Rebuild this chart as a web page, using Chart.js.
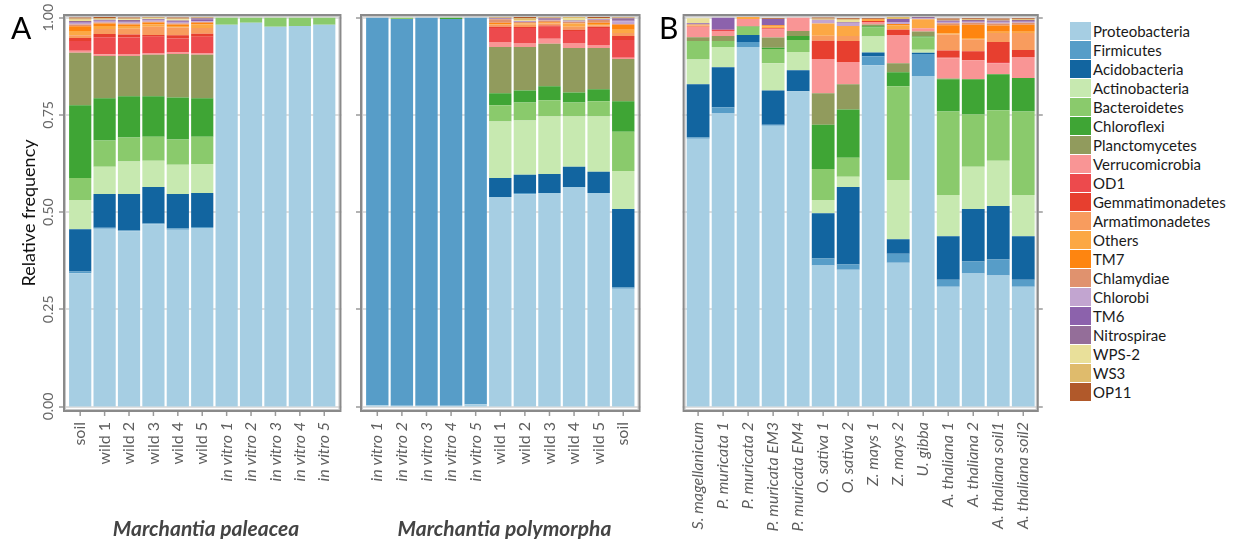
<!DOCTYPE html>
<html>
<head>
<meta charset="utf-8">
<script src="https://cdn.jsdelivr.net/npm/chart.js@4.4.0/dist/chart.umd.min.js"></script>
<style>
  body { margin: 0; background: #fff; font-family: Lato, sans-serif; }
  #wrap { position: relative; width: 1245px; height: 539px; overflow: hidden; }
  canvas { position: absolute; top: 0; }
  .letter { position: absolute; top: 12px; font-size: 30px; line-height: 30px; color: #000; }
  .group { position: absolute; top: 517px; font-size: 21px; line-height: 21px; font-weight: bold; font-style: italic; color: #444; text-align: center; }
  #legend { position: absolute; left: 1070px; top: 21px; }
  .row { height: 19px; display: flex; align-items: center; font-size: 15px; color: #1a1a1a; }
  .box { width: 21px; height: 18px; margin-right: 2px; }
</style>
</head>
<body>
<div id="wrap">
  <canvas id="c1" width="356" height="539" style="left:0"></canvas>
  <canvas id="c2" width="303" height="539" style="left:352px"></canvas>
  <canvas id="c3" width="400" height="539" style="left:655px"></canvas>
  <div class="letter" style="left:11px">A</div>
  <div class="letter" style="left:659px">B</div>
  <div class="group" style="left:63px;width:286px">Marchantia paleacea</div>
  <div class="group" style="left:361px;width:287px">Marchantia polymorpha</div>
  <div id="legend"></div>
</div>
<script>
const phyla = ['Proteobacteria', 'Firmicutes', 'Acidobacteria', 'Actinobacteria', 'Bacteroidetes',
  'Chloroflexi', 'Planctomycetes', 'Verrucomicrobia', 'OD1', 'Gemmatimonadetes', 'Armatimonadetes',
  'Others', 'TM7', 'Chlamydiae', 'Chlorobi', 'TM6', 'Nitrospirae', 'WPS-2', 'WS3', 'OP11'];
const colors = ['#a6cee3', '#579dc8', '#1265a0', '#c7e9b0', '#8aca6c', '#3fa535', '#919b5d', '#f99595',
  '#ed4a4d', '#e73f2f', '#f89c5e', '#fca844', '#fe8510', '#e0926e', '#c2a5d0', '#8c62ac', '#946e99',
  '#e9e09a', '#dfbb6c', '#b1592a'];
const yTicks = [0, 0.25, 0.5, 0.75, 1];

// Marchantia paleacea
const paleaceaSamples = ['soil', 'wild 1', 'wild 2', 'wild 3', 'wild 4', 'wild 5',
  'in vitro 1', 'in vitro 2', 'in vitro 3', 'in vitro 4', 'in vitro 5'];
const paleaceaValues = [
  [0.343, 0.457, 0.451, 0.469, 0.455, 0.459, 0.982, 0.987, 0.977, 0.979, 0.982],
  [0.004, 0.003, 0.002, 0.002, 0.003, 0.003, 0, 0, 0, 0, 0],
  [0.109, 0.087, 0.094, 0.094, 0.089, 0.087, 0, 0, 0, 0, 0],
  [0.075, 0.070, 0.083, 0.067, 0.075, 0.075, 0, 0, 0, 0, 0],
  [0.057, 0.067, 0.062, 0.062, 0.065, 0.070, 0.018, 0.013, 0.023, 0.021, 0.018],
  [0.187, 0.109, 0.106, 0.104, 0.108, 0.099, 0, 0, 0, 0, 0],
  [0.135, 0.109, 0.104, 0.107, 0.112, 0.112, 0, 0, 0, 0, 0],
  [0.005, 0.004, 0.005, 0.003, 0.004, 0.003, 0, 0, 0, 0, 0],
  [0.025, 0.044, 0.042, 0.043, 0.036, 0.043, 0, 0, 0, 0, 0],
  [0.008, 0.008, 0.008, 0.005, 0.008, 0.008, 0, 0, 0, 0, 0],
  [0.007, 0.013, 0.015, 0.021, 0.020, 0.015, 0, 0, 0, 0, 0],
  [0.011, 0.008, 0.007, 0.006, 0.004, 0.009, 0, 0, 0, 0, 0],
  [0.012, 0.006, 0.004, 0.005, 0.004, 0.004, 0, 0, 0, 0, 0],
  [0.005, 0.003, 0.002, 0.002, 0.002, 0.002, 0, 0, 0, 0, 0],
  [0.004, 0.004, 0.003, 0.003, 0.004, 0.002, 0, 0, 0, 0, 0],
  [0.002, 0.001, 0.002, 0.002, 0.002, 0.004, 0, 0, 0, 0, 0],
  [0.003, 0.002, 0.004, 0.002, 0.002, 0.004, 0, 0, 0, 0, 0],
  [0.003, 0.002, 0.002, 0.002, 0.003, 0.001, 0, 0, 0, 0, 0],
  [0.003, 0.002, 0.002, 0.002, 0.002, 0.001, 0, 0, 0, 0, 0],
  [0.003, 0.003, 0.003, 0.003, 0.003, 0.003, 0, 0, 0, 0, 0]
];

// Marchantia polymorpha
const polymorphaSamples = ['in vitro 1', 'in vitro 2', 'in vitro 3', 'in vitro 4', 'in vitro 5',
  'wild 1', 'wild 2', 'wild 3', 'wild 4', 'wild 5', 'soil'];
const polymorphaValues = [
  [0.003, 0.002, 0.002, 0.002, 0.006, 0.539, 0.546, 0.549, 0.565, 0.549, 0.303],
  [0.997, 0.995, 0.998, 0.995, 0.994, 0, 0.003, 0, 0, 0, 0.003],
  [0, 0, 0, 0, 0, 0.049, 0.047, 0.049, 0.052, 0.055, 0.202],
  [0, 0, 0, 0, 0, 0.145, 0.140, 0.148, 0.129, 0.142, 0.098],
  [0, 0.003, 0, 0, 0, 0.042, 0.046, 0.042, 0.036, 0.039, 0.101],
  [0, 0, 0, 0.003, 0, 0.031, 0.031, 0.036, 0.026, 0.031, 0.078],
  [0, 0, 0, 0, 0, 0.119, 0.112, 0.109, 0.114, 0.106, 0.109],
  [0, 0, 0, 0, 0, 0.013, 0.010, 0.013, 0.013, 0.008, 0.003],
  [0, 0, 0, 0, 0, 0.036, 0.039, 0.031, 0.031, 0.044, 0.046],
  [0, 0, 0, 0, 0, 0.003, 0.002, 0.003, 0.003, 0.003, 0.010],
  [0, 0, 0, 0, 0, 0.005, 0.006, 0.005, 0.008, 0.003, 0.008],
  [0, 0, 0, 0, 0, 0.002, 0.003, 0.002, 0.008, 0.004, 0.008],
  [0, 0, 0, 0, 0, 0.003, 0.001, 0.002, 0.001, 0.003, 0.013],
  [0, 0, 0, 0, 0, 0.009, 0.003, 0.004, 0.004, 0.007, 0.002],
  [0, 0, 0, 0, 0, 0.001, 0.001, 0.001, 0.001, 0.001, 0.007],
  [0, 0, 0, 0, 0, 0.001, 0.001, 0.001, 0.001, 0.001, 0.002],
  [0, 0, 0, 0, 0, 0.001, 0.001, 0.004, 0.001, 0.001, 0.006],
  [0, 0, 0, 0, 0, 0.001, 0.001, 0.001, 0.006, 0.001, 0.001],
  [0, 0, 0, 0, 0, 0.001, 0.006, 0.001, 0.004, 0.001, 0.001],
  [0, 0, 0, 0, 0, 0.003, 0.003, 0.002, 0.001, 0.003, 0.001]
];

// B: other plants
const plantSamples = ['S. magellanicum', 'P. muricata 1', 'P. muricata 2', 'P. muricata EM3',
  'P. muricata EM4', 'O. sativa 1', 'O. sativa 2', 'Z. mays 1', 'Z. mays 2', 'U. gibba',
  'A. thaliana 1', 'A. thaliana 2', 'A. thaliana soil1', 'A. thaliana soil2'];
const plantValues = [
  [0.689, 0.754, 0.925, 0.722, 0.811, 0.363, 0.352, 0.878, 0.370, 0.850, 0.308, 0.342, 0.337, 0.308],
  [0.003, 0.016, 0.013, 0.003, 0, 0.018, 0.013, 0.023, 0.023, 0.057, 0.018, 0.031, 0.041, 0.018],
  [0.137, 0.103, 0.018, 0.088, 0.054, 0.116, 0.200, 0.010, 0.037, 0.003, 0.112, 0.135, 0.138, 0.112],
  [0.064, 0.052, 0, 0.070, 0.047, 0.034, 0.026, 0.041, 0.153, 0.008, 0.106, 0.109, 0.116, 0.106],
  [0.047, 0.015, 0.021, 0.037, 0.031, 0.080, 0.049, 0.023, 0.241, 0.031, 0.215, 0.134, 0.130, 0.215],
  [0, 0, 0, 0.003, 0.010, 0.114, 0.124, 0.003, 0.036, 0.003, 0.083, 0.091, 0.093, 0.086],
  [0.010, 0.013, 0.002, 0.026, 0.013, 0.081, 0.065, 0.005, 0.023, 0.013, 0.002, 0, 0, 0],
  [0.026, 0.013, 0.018, 0.021, 0.034, 0.088, 0.057, 0.006, 0.073, 0.008, 0.052, 0.049, 0.028, 0.054],
  [0.001, 0.003, 0, 0.003, 0, 0, 0, 0, 0, 0, 0.002, 0, 0.003, 0],
  [0, 0, 0, 0, 0, 0.047, 0.054, 0.003, 0.013, 0, 0.018, 0.023, 0.052, 0.018],
  [0.003, 0, 0, 0, 0, 0.013, 0.013, 0, 0.002, 0, 0.041, 0.031, 0.023, 0.044],
  [0.003, 0, 0.005, 0.005, 0, 0.031, 0.026, 0.003, 0.010, 0.023, 0.003, 0.003, 0.003, 0.003],
  [0, 0, 0, 0.003, 0, 0, 0, 0.002, 0.003, 0, 0.021, 0.034, 0.016, 0.018],
  [0, 0, 0, 0, 0, 0, 0, 0, 0, 0, 0.005, 0.005, 0.005, 0.005],
  [0, 0, 0, 0, 0, 0.010, 0.008, 0, 0.005, 0.003, 0.003, 0.003, 0.003, 0.003],
  [0.003, 0.031, 0, 0.016, 0, 0, 0, 0, 0.008, 0, 0.002, 0.002, 0.002, 0.002],
  [0, 0, 0, 0, 0, 0, 0.002, 0, 0, 0.003, 0.002, 0.002, 0.003, 0.002],
  [0.013, 0, 0, 0, 0, 0, 0.005, 0, 0, 0, 0, 0, 0, 0],
  [0, 0, 0, 0, 0, 0.003, 0.002, 0, 0.005, 0, 0.002, 0.002, 0.002, 0.002],
  [0, 0, 0, 0.002, 0, 0.003, 0.003, 0.002, 0, 0, 0.003, 0.003, 0.003, 0.003]
];

// frame, grid and outside tick marks (ggplot-like panel)
const framePlugin = {
  id: 'frame',
  beforeDatasetsDraw(chart, args, opts) {
    const { ctx, chartArea: a, scales: { y } } = chart;
    const x0 = a.left - opts.margin, x1 = a.right + opts.margin;
    ctx.save();
    ctx.lineWidth = 1.5;
    ctx.strokeStyle = '#d5d5d5';
    yTicks.forEach(v => {
      const py = Math.round(y.getPixelForValue(v));
      ctx.beginPath(); ctx.moveTo(x0, py); ctx.lineTo(x1, py); ctx.stroke();
    });
    ctx.strokeStyle = '#9a9a9a';
    yTicks.forEach(v => {
      const py = Math.round(y.getPixelForValue(v));
      const sx = opts.side === 'left' ? x0 - 4 : x1;
      ctx.beginPath(); ctx.moveTo(sx, py); ctx.lineTo(sx + 4, py); ctx.stroke();
    });
    ctx.restore();
  },
  afterDatasetsDraw(chart, args, opts) {
    const { ctx, chartArea: a, scales: { x } } = chart;
    const x0 = a.left - opts.margin, x1 = a.right + opts.margin;
    const y0 = a.top - 2, y1 = a.bottom + 2;
    ctx.save();
    ctx.strokeStyle = '#9a9a9a';
    ctx.lineWidth = 1.5;
    x.ticks.forEach((t, i) => {
      const px = x.getPixelForTick(i);
      ctx.beginPath(); ctx.moveTo(px, y1); ctx.lineTo(px, y1 + 4); ctx.stroke();
    });
    ctx.strokeStyle = '#c8c8c8';
    ctx.lineWidth = 1;
    ctx.strokeRect(x0 + 2.5, y0 + 2.5, x1 - x0 - 5, y1 - y0 - 5);
    ctx.strokeStyle = '#8a8a8a';
    ctx.lineWidth = 2;
    ctx.strokeRect(x0 + 1, y0 + 1, x1 - x0 - 2, y1 - y0 - 2);
    ctx.restore();
  }
};

function makeChart(id, samples, values, pad, margin, side, allItalic, showY) {
  const datasets = phyla.map((name, i) => ({
    label: name,
    data: values[i],
    backgroundColor: colors[i],
    borderWidth: 0,
    barPercentage: 0.91,
    categoryPercentage: 1
  }));
  return new Chart(document.getElementById(id), {
    type: 'bar',
    data: { labels: samples, datasets },
    plugins: [framePlugin],
    options: {
      responsive: false,
      animation: false,
      events: [],
      layout: { padding: pad },
      plugins: {
        legend: { display: false },
        tooltip: { enabled: false },
        frame: { margin, side }
      },
      scales: {
        x: {
          stacked: true,
          grid: { display: false, drawTicks: false },
          border: { display: false },
          ticks: {
            autoSkip: false,
            minRotation: 90,
            maxRotation: 90,
            padding: 12,
            color: '#5e5e5e',
            font: (c) => ({
              family: 'Lato',
              size: 16,
              style: (allItalic || String(c.tick && c.tick.label).startsWith('in vitro')) ? 'italic' : 'normal'
            })
          },
          afterFit: (s) => { s.height = 129; }
        },
        y: {
          stacked: true,
          display: showY,
          min: -0.009,
          max: 1.0046,
          afterBuildTicks: (s) => { s.ticks = yTicks.map(v => ({ value: v })); },
          grid: { display: false, drawTicks: false },
          border: { display: false },
          ticks: {
            minRotation: 90,
            maxRotation: 90,
            crossAlign: 'center',
            padding: 6,
            color: '#666',
            font: { family: 'Lato', size: 14 },
            callback: (v) => Number(v).toFixed(2)
          },
          title: {
            display: true,
            text: 'Relative frequency',
            color: '#111',
            font: { family: 'Lato', size: 18 },
            padding: { top: 18, bottom: 0 }
          },
          afterFit: (s) => { s.width = showY ? 68 : 0; }
        }
      }
    }
  });
}

makeChart('c1', paleaceaSamples, paleaceaValues, { left: 0, right: 12, top: 16, bottom: 0 }, 5, 'left', false, true);
makeChart('c2', polymorphaSamples, polymorphaValues, { left: 13, right: 12, top: 16, bottom: 0 }, 5, 'left', false, false);
makeChart('c3', plantSamples, plantValues, { left: 30.6, right: 14.8, top: 16, bottom: 0 }, 3, 'right', true, false);

const legend = document.getElementById('legend');
phyla.forEach((name, i) => {
  const row = document.createElement('div');
  row.className = 'row';
  const box = document.createElement('div');
  box.className = 'box';
  box.style.background = colors[i];
  const label = document.createElement('span');
  label.textContent = name;
  row.appendChild(box);
  row.appendChild(label);
  legend.appendChild(row);
});
</script>
</body>
</html>
